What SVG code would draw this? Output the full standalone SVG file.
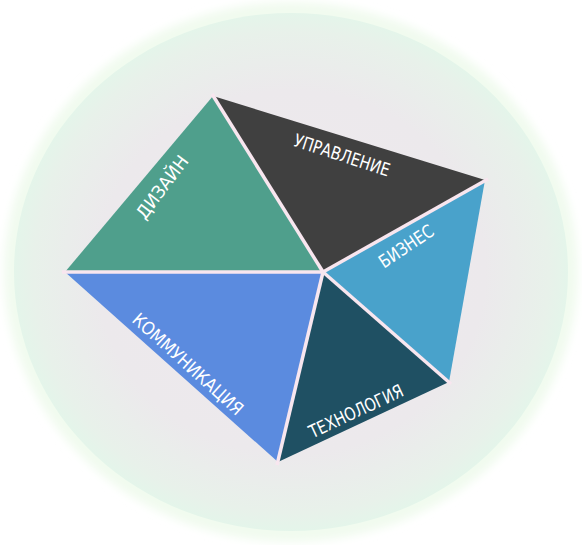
<svg xmlns="http://www.w3.org/2000/svg" width="582" height="545" viewBox="0 0 582 545">
<defs>
<radialGradient id="bg" cx="0.5" cy="0.5" r="0.5">
<stop offset="0" stop-color="#efe9ee"/>
<stop offset="0.7" stop-color="#ece9ec"/>
<stop offset="0.93" stop-color="#e8f1ea"/>
<stop offset="1" stop-color="#e4f5ea"/>
</radialGradient>
<filter id="blur" x="-10%" y="-10%" width="120%" height="120%"><feGaussianBlur stdDeviation="4"/></filter>
<style>
.lbl{fill:#ffffff;font-family:"Liberation Sans Narrow","DejaVu Sans Condensed","Liberation Sans",sans-serif;font-size:18px;text-anchor:middle;dominant-baseline:central;}
.sep{stroke:#f8e6ef;stroke-width:3.5;fill:none;stroke-linecap:butt;}
</style>
</defs>
<rect width="582" height="545" fill="#ffffff"/>
<ellipse cx="291" cy="272" rx="287" ry="270" fill="#f1fbef" filter="url(#blur)"/>
<ellipse cx="291" cy="272" rx="277" ry="259" fill="url(#bg)"/>
<g id="dizain"><polygon points="65,272 213,96 323,272" fill="#4f9f8c"/><text class="lbl" transform="translate(162,187) rotate(-53)" textLength="74" lengthAdjust="spacingAndGlyphs">ДИЗАЙН</text></g>
<g id="upravlenie"><polygon points="213,96 485,180 323,272" fill="#404040"/><text class="lbl" transform="translate(342,155) rotate(18)" textLength="100" lengthAdjust="spacingAndGlyphs">УПРАВЛЕНИЕ</text></g>
<g id="biznes"><polygon points="485,180 449,382 323,272" fill="#49a2cb"/><text class="lbl" transform="translate(406,246) rotate(-34)" textLength="62" lengthAdjust="spacingAndGlyphs">БИЗНЕС</text></g>
<g id="tehnologiya"><polygon points="449,382 278,462 323,272" fill="#1f5063"/><text class="lbl" transform="translate(356,411) rotate(-25)" textLength="102" lengthAdjust="spacingAndGlyphs">ТЕХНОЛОГИЯ</text></g>
<g id="kommunikaciya"><polygon points="278,462 65,272 323,272" fill="#5b8bdf"/><text class="lbl" transform="translate(188,364) rotate(42)" textLength="142" lengthAdjust="spacingAndGlyphs">КОММУНИКАЦИЯ</text></g>
<g id="connectors">
<line class="sep" x1="323" y1="272" x2="212" y2="94"/>
<line class="sep" x1="323" y1="272" x2="488" y2="179"/>
<line class="sep" x1="323" y1="272" x2="451" y2="384"/>
<line class="sep" x1="323" y1="272" x2="277" y2="465"/>
<line class="sep" x1="323" y1="272" x2="62" y2="272"/>
</g>
</svg>
